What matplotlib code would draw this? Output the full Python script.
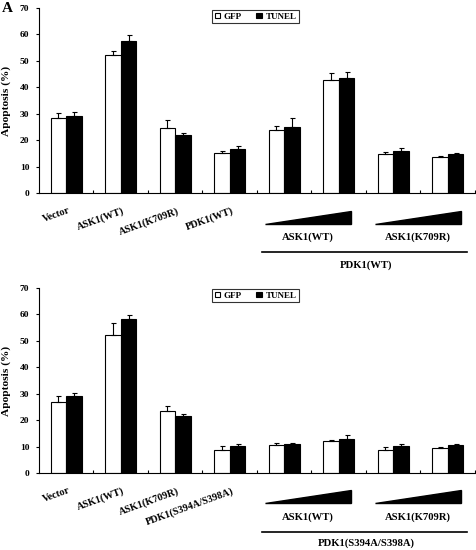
import numpy as np
import matplotlib.pyplot as plt
from matplotlib.transforms import blended_transform_factory
from matplotlib.patches import Polygon

plt.rcParams['font.family'] = 'Liberation Serif'
plt.rcParams['font.weight'] = 'bold'

# top panel (PDK1 WT)
labels_top = ['Vector', 'ASK1(WT)', 'ASK1(K709R)', 'PDK1(WT)']
gfp_top = [28.4, 52.1, 24.6, 15.3, 24.0, 42.7, 14.9, 13.8]
gfp_top_err = [1.7, 1.5, 3.0, 0.6, 1.5, 2.6, 0.8, 0.2]
tunel_top = [29.3, 57.6, 22.1, 16.7, 25.1, 43.6, 16.0, 14.6]
tunel_top_err = [1.2, 2.2, 0.7, 1.2, 3.4, 2.0, 0.9, 0.6]

# bottom panel (PDK1 S394A/S398A)
labels_bot = ['Vector', 'ASK1(WT)', 'ASK1(K709R)', 'PDK1(S394A/S398A)']
gfp_bot = [27.0, 52.3, 23.6, 8.8, 10.6, 12.2, 8.8, 9.3]
gfp_bot_err = [2.0, 4.4, 1.9, 1.3, 0.7, 0.4, 0.9, 0.4]
tunel_bot = [29.3, 58.3, 21.6, 10.2, 11.0, 12.9, 10.3, 10.5]
tunel_bot_err = [1.1, 1.3, 0.6, 0.8, 0.3, 1.3, 0.6, 0.6]

W, H = 477, 550
fig = plt.figure(figsize=(W / 100, H / 100), dpi=100)


def fy(py):
    return 1 - py / H


def panel(top, bottom, gfp, gerr, tun, terr, labels, group_name, lab_y, tri_y, sub_y, line_y, name_y, leg_y):
    ax = fig.add_axes([39 / W, fy(bottom), (475 - 39) / W, (bottom - top) / H])
    x = np.arange(len(gfp))
    bw = 0.285
    ax.bar(x - bw / 2, gfp, bw, color='white', edgecolor='black', linewidth=0.8,
           yerr=[np.zeros(len(gerr)), gerr], capsize=1.8,
           error_kw=dict(elinewidth=0.8, capthick=0.8), label='GFP')
    ax.bar(x + bw / 2, tun, bw, color='black', edgecolor='black', linewidth=0.8,
           yerr=[np.zeros(len(terr)), terr], capsize=1.8,
           error_kw=dict(elinewidth=0.8, capthick=0.8, ecolor='black'), label='TUNEL')
    ax.set_xlim(-0.5, 7.5)
    ax.set_ylim(0, 70)
    ax.set_yticks(range(0, 71, 10))
    ax.set_xticks(np.arange(0.5, 7.6, 1))
    ax.set_xticklabels([])
    ax.tick_params(axis='x', direction='in', length=2, width=0.8)
    ax.tick_params(axis='y', direction='out', length=2, width=0.8, labelsize=6.8, pad=5)
    for lab in ax.get_yticklabels():
        lab.set_fontweight('bold')
    for s in ['top', 'right']:
        ax.spines[s].set_visible(False)
    for s in ['left', 'bottom']:
        ax.spines[s].set_linewidth(0.8)
    ax.set_ylabel('Apoptosis (%)', fontsize=8.2, fontweight='bold', labelpad=6)
    ax.legend(loc='upper left', bbox_to_anchor=(173 / 436, 1 - (leg_y - top) / (bottom - top)),
              ncol=2, fontsize=6.5, frameon=True, fancybox=False, edgecolor='black',
              handlelength=0.6, handleheight=0.6, handletextpad=0.4, columnspacing=1.6,
              borderpad=0.3, borderaxespad=0)
    ax.get_legend().get_frame().set_linewidth(0.8)

    tr = blended_transform_factory(ax.transData, fig.transFigure)
    for i, lab in enumerate(labels):
        ax.text(i + 0.03, fy(lab_y), lab, transform=tr, rotation=20, ha='right', va='top',
                fontsize=7.3, fontweight='bold', rotation_mode='anchor', clip_on=False)
    for x0, x1 in [(3.65, 5.22), (5.66, 7.24)]:
        tri = Polygon([(x0, fy(tri_y[1])), (x1, fy(tri_y[1])), (x1, fy(tri_y[0]))],
                      closed=True, facecolor='black', edgecolor='black', transform=tr, clip_on=False)
        fig.add_artist(tri)
    ax.text(4.44, fy(sub_y), 'ASK1(WT)', transform=tr, ha='center', va='center',
            fontsize=7.7, fontweight='bold', clip_on=False)
    ax.text(6.45, fy(sub_y), 'ASK1(K709R)', transform=tr, ha='center', va='center',
            fontsize=7.7, fontweight='bold', clip_on=False)
    ax.plot([3.6, 7.35], [fy(line_y), fy(line_y)], color='black', lw=1.2, transform=tr, clip_on=False)
    ax.text(5.5, fy(name_y), group_name, transform=tr, ha='center', va='center',
            fontsize=7.7, fontweight='bold', clip_on=False)
    return ax


panel(8, 193, gfp_top, gfp_top_err, tunel_top, tunel_top_err, labels_top, 'PDK1(WT)',
      lab_y=206, tri_y=(211, 224), sub_y=237, line_y=252, name_y=265, leg_y=10)
panel(288, 473, gfp_bot, gfp_bot_err, tunel_bot, tunel_bot_err, labels_bot, 'PDK1(S394A/S398A)',
      lab_y=486, tri_y=(490, 503), sub_y=517, line_y=532, name_y=543, leg_y=289)

fig.text(2 / W, fy(2), 'A', fontsize=11, fontweight='bold', va='top', ha='left')

fig.savefig('out.png', dpi=100)
